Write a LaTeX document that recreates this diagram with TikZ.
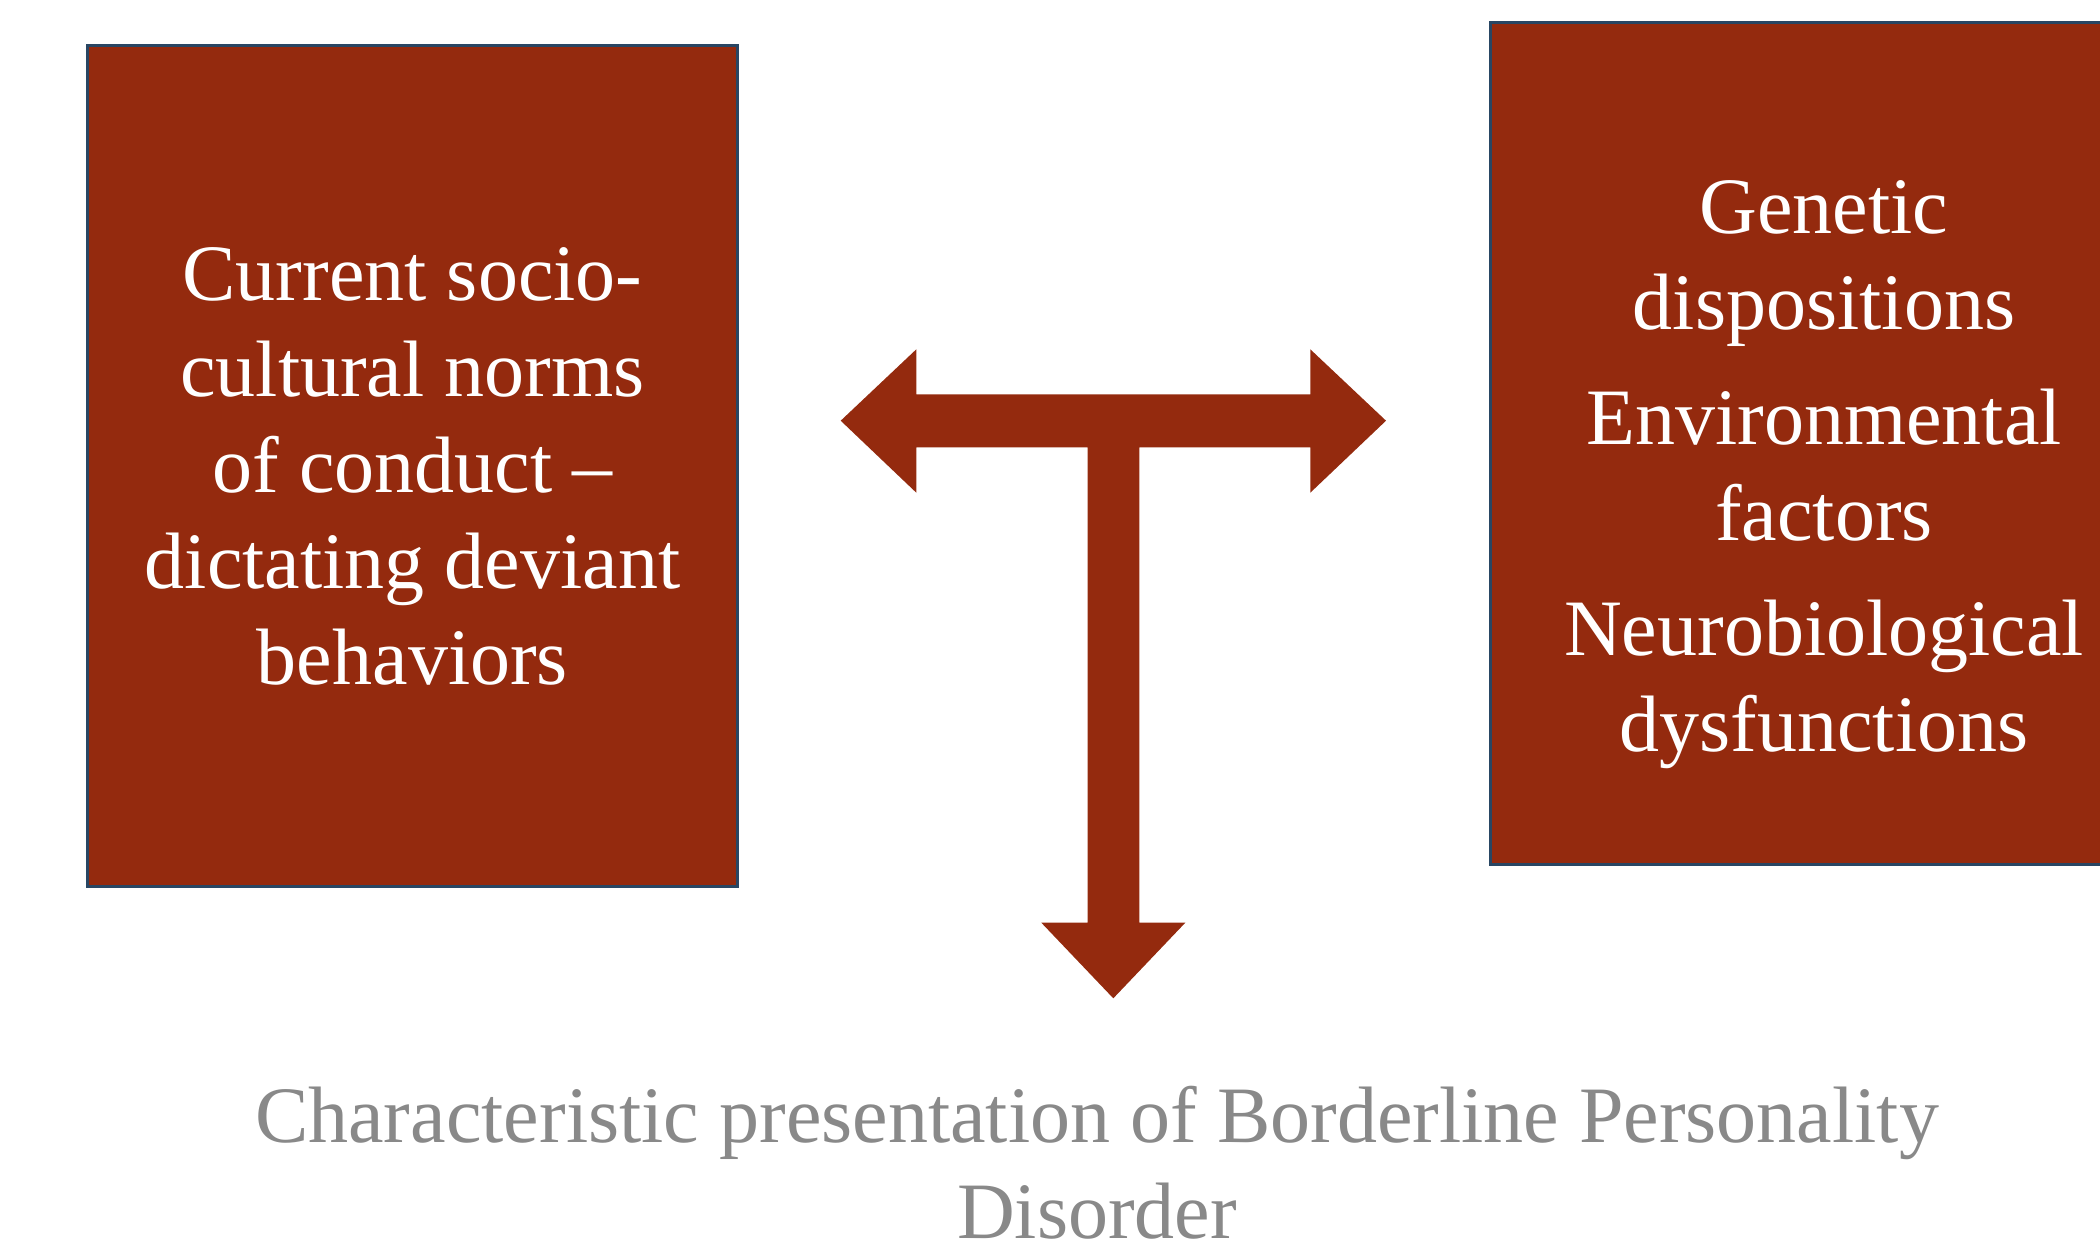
\documentclass[tikz,border=0pt]{standalone}
\usepackage{fontspec}
\setmainfont{Liberation Serif}
\definecolor{boxred}{RGB}{148,42,14}
\definecolor{boxedge}{RGB}{41,70,99}
\definecolor{captiongray}{RGB}{137,137,137}
\tikzset{
  redbox/.style={draw=boxedge, line width=3pt, fill=boxred, rectangle, inner sep=0pt},
  boxtext/.style={text=white, align=center, inner sep=0pt, font=\fontsize{80}{96}\selectfont},
  captiontext/.style={text=captiongray, align=center, inner sep=0pt, font=\fontsize{80}{96}\selectfont},
  tarrow/.style={fill=boxred, draw=none}
}
\begin{document}
\begin{tikzpicture}[x=1pt,y=-1pt]
\useasboundingbox (0,0) rectangle (2100,1255);
% left box
\node[redbox, boxtext, minimum width=650.6pt, minimum height=841pt] (leftbox) at (412.5,466.3)
  {Current socio-\\cultural norms\\of conduct --\\dictating deviant\\behaviors};
% right box
\node[redbox, minimum width=671pt, minimum height=841pt, anchor=north west] (rightbox) at (1488.5,21.5) {};
\node[boxtext] (righttext) at (1824,475)
  {Genetic\\dispositions\\[19pt]Environmental\\factors\\[19pt]Neurobiological\\dysfunctions};
% T-shaped arrow
\fill[tarrow] (840.7,420.7) -- (916.3,349.3) -- (916.3,394.3) -- (1310.3,394.3)
  -- (1310.3,349.3) -- (1386,420.7) -- (1310.3,492.7) -- (1310.3,447.3)
  -- (1139.3,447.3) -- (1139.3,922.7) -- (1185.3,922.7) -- (1113.3,998.3)
  -- (1041.3,922.7) -- (1087.7,922.7) -- (1087.7,447.3) -- (916.3,447.3)
  -- (916.3,492.7) -- cycle;
% caption
\node[captiontext] (caption) at (1097,1163.2)
  {Characteristic presentation of Borderline Personality\\Disorder};
\end{tikzpicture}
\end{document}
